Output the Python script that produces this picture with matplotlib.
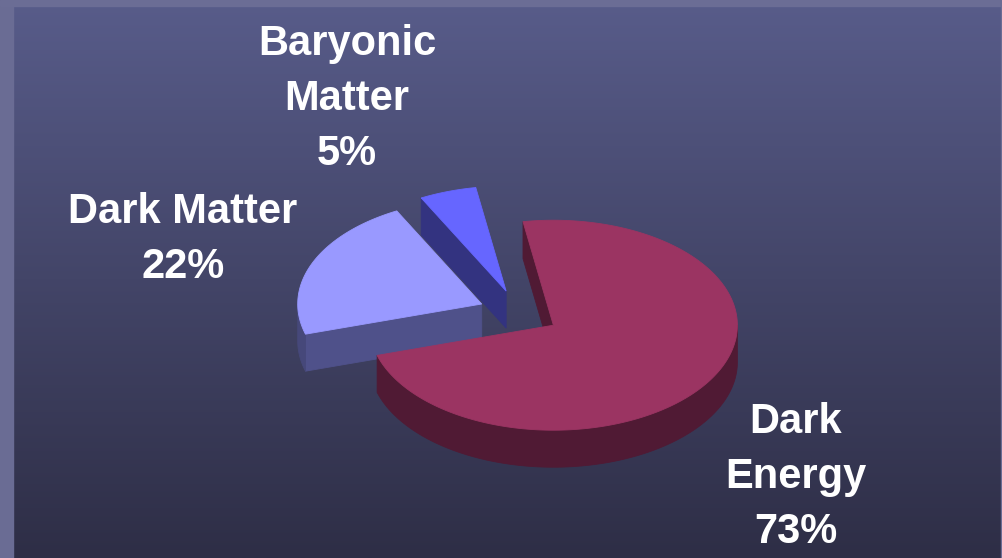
import numpy as np
import matplotlib
matplotlib.use("Agg")
import matplotlib.pyplot as plt
from matplotlib.patches import Polygon, Rectangle
from matplotlib.colors import LinearSegmentedColormap

# Composition of the universe
categories = ["Dark Energy", "Dark Matter", "Baryonic Matter"]
label_names = ["Dark\nEnergy", "Dark Matter", "Baryonic\nMatter"]
shares = [73, 22, 5]

top_colors = ["#9b3462", "#9999ff", "#6666ff"]
wall_colors = ["#501a34", "#4f518a", "#333380"]
rim_colors = ["#501a34", "#46487a", "#333380"]

W, H = 1003, 558
fig = plt.figure(figsize=(W / 100, H / 100), dpi=100)
ax = fig.add_axes([0, 0, 1, 1])

# slide-style gradient background with a light frame
grad = np.linspace(0, 1, 256)[:, None]
cmap = LinearSegmentedColormap.from_list("bg", ["#585c8a", "#2e2e46"])
ax.imshow(grad, extent=(0, W, H, 0), cmap=cmap, aspect="auto", zorder=0)
ax.add_patch(Rectangle((0, 0), 13, H, color="#6a6c94", zorder=1))
ax.add_patch(Rectangle((0, 0), W, 6, color="#6b6d95", zorder=1))
ax.add_patch(Rectangle((W - 2, 0), 2, H, color="#6a6c94", zorder=1))

# 3D pie geometry (pixel space)
cx, cy = 519, 313
rx, ry = 184, 105
depth = 37
explode = 0.22
start_angle = 99.5


def ellipse_pts(t_deg, c, dz=0.0):
    t = np.radians(np.atleast_1d(t_deg))
    return np.column_stack([c[0] + rx * np.cos(t), c[1] - ry * np.sin(t) + dz])


total = float(sum(shares))
spans = []
hi = start_angle
for v in shares:
    span = 360.0 * v / total
    spans.append((hi - span, hi))
    hi -= span

mids = [(lo + hi) / 2 for lo, hi in spans]
order = sorted(range(len(shares)), key=lambda i: -np.sin(np.radians(mids[i])))

for rank, i in enumerate(order):
    lo, hi = spans[i]
    mid = np.radians(mids[i])
    c = np.array([cx + explode * rx * np.cos(mid), cy - explode * ry * np.sin(mid)])
    z = 2 + rank * 10

    # radial cut walls facing the viewer
    for edge, normal in ((hi, hi + 90), (lo, lo - 90)):
        if np.sin(np.radians(normal)) < 0:
            p = ellipse_pts(edge, c)[0]
            poly = [c, p, p + [0, depth], c + [0, depth]]
            ax.add_patch(Polygon(poly, closed=True, fc=wall_colors[i],
                                 ec=wall_colors[i], lw=0.6, zorder=z))

    # outer rim on the front half
    for k in (-1, 0, 1):
        a = max(lo, -180 + 360 * k)
        b = min(hi, 360 * k)
        if b > a:
            t = np.linspace(a, b, 200)
            rim = np.vstack([ellipse_pts(t, c), ellipse_pts(t[::-1], c, depth)])
            ax.add_patch(Polygon(rim, closed=True, fc=rim_colors[i],
                                 ec=rim_colors[i], lw=0.6, zorder=z + 1))

    # top face
    t = np.linspace(lo, hi, 400)
    face = np.vstack([c, ellipse_pts(t, c)])
    ax.add_patch(Polygon(face, closed=True, fc=top_colors[i],
                         ec=top_colors[i], lw=0.6, zorder=z + 2))

# data labels
label_x = [796, 183, 347]
label_y0 = [433, 223, 55]
line_step = 55
for name, v, x, y0 in zip(label_names, shares, label_x, label_y0):
    lines = name.split("\n") + [f"{v}%"]
    for j, s in enumerate(lines):
        ax.text(x, y0 + j * line_step, s, ha="center", va="baseline",
                fontsize=30, fontweight="bold", color="white",
                family=["Liberation Sans", "DejaVu Sans"], zorder=50)

ax.set_xlim(0, W)
ax.set_ylim(H, 0)
ax.axis("off")
fig.savefig("out.png", dpi=100)
